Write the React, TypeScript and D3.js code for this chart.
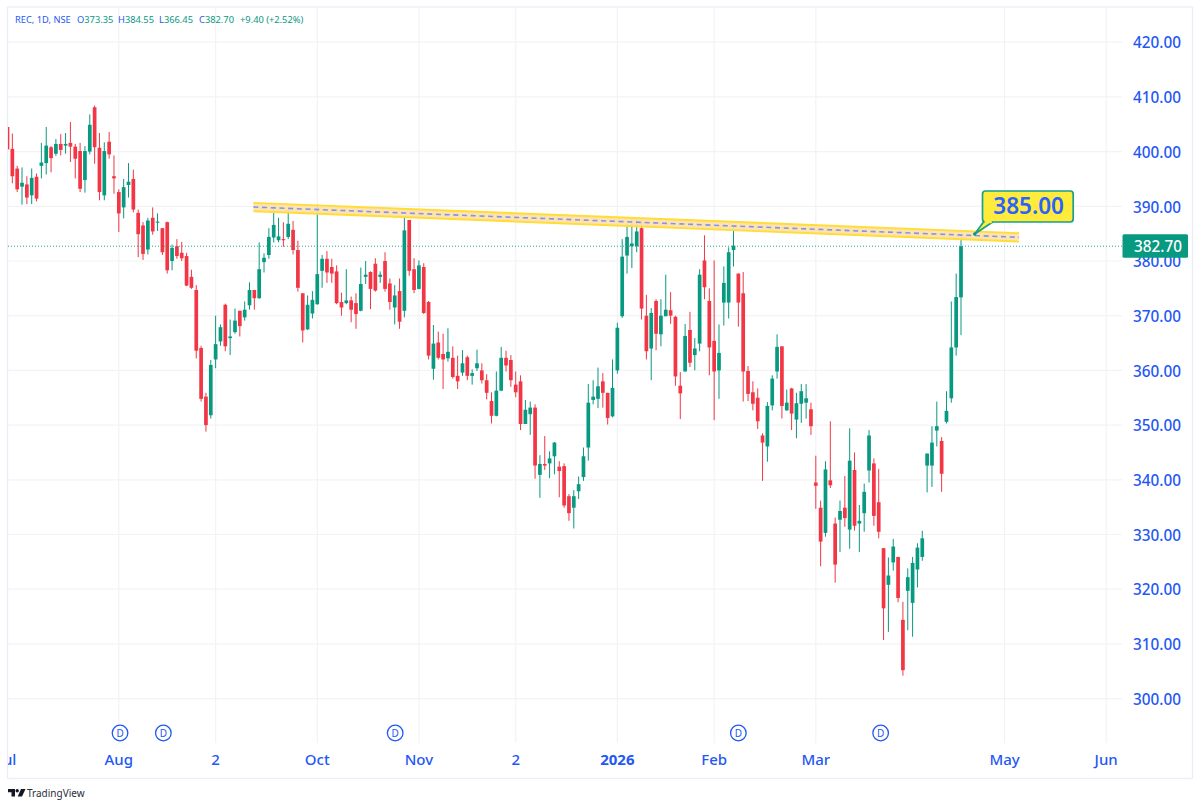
import React from "react";
import * as d3 from "d3";

const opens = [
404.5,400.5,396.9,393.6,394.0,392.0,395.4,397.4,397.9,400.8,
399.6,401.4,401.1,401.6,400.9,400.1,394.8,400.0,408.1,400.7,
392.0,401.8,395.5,392.6,389.8,393.9,395.0,388.8,386.5,382.1,
387.9,387.0,386.0,387.1,380.0,382.7,381.5,380.9,377.1,374.7,
364.1,355.2,351.8,362.0,365.3,372.0,365.9,367.0,370.9,369.7,
371.9,374.7,373.2,379.8,381.1,384.3,383.8,384.0,384.4,385.7,
382.0,374.1,367.5,370.4,372.1,378.2,380.4,378.9,378.1,372.5,
372.3,372.8,372.3,370.9,377.1,378.0,379.5,377.1,380.0,375.9,
371.5,374.5,370.9,387.5,378.5,374.9,378.9,372.5,360.3,365.1,
363.0,362.2,362.3,359.0,359.6,362.4,359.0,360.4,360.0,358.2,
354.4,351.7,356.3,362.3,361.9,357.4,358.0,350.2,352.0,353.2,
340.9,342.9,343.0,344.3,342.4,342.5,337.0,334.9,337.9,340.5,
345.9,354.6,354.8,358.0,355.9,351.6,360.0,369.9,381.0,382.7,
382.7,386.0,370.0,364.0,372.7,366.6,369.9,371.0,369.8,357.2,
359.8,367.4,362.8,364.9,380.1,372.7,365.4,360.0,372.4,372.4,
382.0,377.7,374.1,359.9,356.0,355.0,348.1,346.1,353.6,359.8,
364.4,352.7,356.7,351.0,353.9,354.1,352.9,339.5,334.9,330.3,
339.9,332.0,332.7,334.9,330.9,341.8,332.0,333.9,341.7,343.0,
335.9,327.5,320.8,324.9,325.9,314.4,319.7,317.5,323.6,325.9,
342.6,342.6,349.0,347.1,350.6,354.9,364.2,373.35];

const closes = [
400.4,395.5,393.1,394.3,391.6,395.2,391.4,398.0,401.1,398.8,
401.4,400.3,401.4,400.9,398.7,393.2,400.1,404.9,400.8,392.6,
400.1,399.5,395.1,388.7,393.5,394.5,389.4,384.9,381.3,387.4,
385.4,387.2,381.6,378.3,382.4,380.9,380.5,375.5,375.1,363.6,
354.8,350.0,361.0,364.8,367.9,364.4,366.2,369.1,368.1,371.1,
374.7,373.2,378.5,380.6,384.4,386.6,384.5,383.8,386.8,382.0,
375.1,367.3,372.0,372.9,377.6,380.4,377.9,377.7,372.3,371.5,
372.8,371.1,370.3,375.8,377.5,374.9,374.6,377.5,374.9,372.5,
373.7,368.9,385.6,378.2,374.7,379.2,370.5,362.7,364.9,362.3,
362.0,363.4,358.8,358.0,361.3,359.0,359.5,361.3,358.2,355.9,
351.7,356.3,362.3,360.9,358.2,356.0,350.2,352.8,353.2,342.6,
342.9,342.6,343.9,346.8,341.6,335.3,333.9,337.0,339.2,344.3,
354.1,355.2,357.1,355.9,351.3,356.8,367.8,380.8,384.4,383.2,
385.4,371.3,363.5,370.5,366.7,370.0,371.1,370.0,358.9,355.8,
366.3,361.4,364.0,377.5,375.2,364.2,359.8,363.2,376.0,381.6,
382.8,372.4,359.8,355.7,353.9,350.7,346.8,353.5,358.5,364.3,
353.5,354.1,352.1,354.0,356.2,354.9,349.8,338.9,328.7,341.9,
339.0,324.5,334.3,333.0,343.5,331.6,332.5,337.8,348.1,333.4,
330.5,316.5,322.5,327.8,318.4,305.2,322.2,324.8,327.6,329.3,
344.8,346.8,349.8,341.1,352.6,364.2,373.4,382.7];

const highs = [
404.5,403.3,397.4,397.1,395.5,396.9,396.0,401.6,404.5,401.0,
402.3,403.2,403.4,405.4,401.4,401.6,401.0,406.8,408.4,403.4,
401.7,403.6,399.3,393.1,395.0,397.9,396.7,389.4,387.1,387.9,
389.8,388.7,386.0,387.2,383.0,384.0,383.5,381.5,378.4,375.6,
364.5,355.9,361.9,370.0,368.4,372.2,369.3,371.3,370.9,372.6,
376.1,374.7,383.4,381.4,386.0,390.4,387.9,387.1,389.5,387.3,
383.7,374.1,373.7,374.5,390.3,381.1,381.8,380.4,379.2,374.2,
378.5,373.5,374.1,378.8,380.0,378.1,380.5,378.1,381.6,376.8,
375.6,376.8,388.2,387.5,380.5,380.1,379.6,372.7,368.3,367.1,
366.7,367.7,364.4,362.7,363.7,362.7,360.2,363.8,361.3,359.3,
356.0,359.8,364.3,363.6,362.8,359.8,359.1,354.6,354.3,353.8,
344.5,348.0,345.2,346.9,343.4,343.0,337.4,338.1,340.6,345.9,
357.5,358.2,360.5,359.5,355.9,362.0,368.7,384.0,386.8,387.9,
387.6,387.6,373.8,371.4,373.0,373.0,377.5,374.3,370.0,359.7,
368.5,370.7,365.9,378.5,384.7,375.0,380.1,368.4,379.0,382.5,
386.5,377.7,378.0,360.8,358.0,356.7,348.5,354.2,359.1,366.6,
364.4,356.5,356.8,355.9,357.5,357.5,354.1,344.4,336.2,343.4,
350.7,333.1,336.2,340.7,349.4,345.0,335.4,339.3,349.1,343.9,
342.0,327.5,325.8,329.2,325.9,317.7,323.8,325.9,328.4,330.7,
344.8,349.8,354.3,347.8,356.2,372.6,377.7,384.55];

const lows = [
400.0,394.2,392.6,390.3,390.4,390.4,390.9,395.1,395.8,396.2,
399.2,399.3,399.6,398.1,395.1,392.6,392.5,399.5,397.8,391.1,
391.1,398.7,392.3,385.3,387.8,391.6,388.9,380.7,380.2,381.2,
384.8,385.5,381.1,377.7,378.3,380.4,380.0,375.4,374.9,362.2,
354.3,348.8,351.2,360.4,364.5,363.5,362.8,366.7,366.2,369.1,
371.1,371.1,373.1,377.9,380.4,383.4,383.4,382.6,384.0,381.2,
374.4,365.1,367.4,369.5,372.0,375.1,376.0,376.0,372.1,370.0,
372.1,368.8,367.6,370.8,375.8,371.2,374.4,376.0,374.4,371.1,
368.4,367.6,369.7,377.3,374.1,374.8,370.3,362.0,358.3,362.0,
356.6,361.6,358.5,356.6,359.0,358.2,357.4,359.9,357.6,354.7,
350.3,351.6,356.2,359.8,357.0,355.1,349.1,350.2,348.2,340.2,
336.7,341.8,340.3,341.0,336.8,334.9,332.5,331.1,336.5,339.8,
343.5,353.8,353.1,353.2,350.1,351.4,359.4,369.6,377.7,378.7,
381.6,369.3,362.0,358.2,363.7,364.4,369.9,368.5,357.2,351.1,
359.8,360.6,360.0,363.5,373.0,359.1,350.9,354.8,368.2,369.5,
379.0,368.0,354.3,354.4,352.7,349.3,339.8,343.3,352.7,358.5,
351.2,352.6,349.1,347.6,350.4,351.2,348.2,334.7,324.2,329.6,
338.5,321.2,326.8,331.4,327.4,330.7,326.8,330.5,339.5,331.6,
329.3,310.7,312.2,323.4,317.6,304.2,312.5,311.3,320.3,325.2,
337.7,338.7,346.1,337.8,350.3,354.1,362.7,366.45];

const priceTicks = [300, 310, 320, 330, 340, 350, 360, 370, 380, 390, 400, 410, 420];
const timeIndex = [0, 23, 43, 64, 85, 105, 126, 146, 167, 206, 227];
const timeLabels = ["Jul", "Aug", "2", "Oct", "Nov", "2", "2026", "Feb", "Mar", "May", "Jun"];
const dividendIndex = [23.25, 32.2, 80.1, 151, 180.4];
const trendIndex = [50.8, 209];
const trendCenter = [389.87, 384.33];
const trendHalfBand = 0.76;
const lastClose = 382.7;
const targetLabel = "385.00";
const legendTitle = "REC, 1D, NSE";
const legendItems = [
  { k: "O", v: "373.35", x: 77 },
  { k: "H", v: "384.55", x: 118 },
  { k: "L", v: "366.45", x: 159 },
  { k: "C", v: "382.70", x: 199 },
];
const legendChange = "+9.40 (+2.52%)";

const UP = "#089981";
const DOWN = "#F23645";
const BLUE = "#1F58F5";
const GRID = "#f3f3f6";
const FRAME = "#eceef5";
const FONT = "'Noto Sans', sans-serif";

const PL = 8;
const PR = 1122;
const PT = 8;
const PB = 778;

export default function App() {
  const x = d3.scaleLinear().domain([0, 197]).range([7.5, 961]);
  const y = d3.scaleLinear().domain([300, 420]).range([698.6, 42.2]);
  const bw = 3.7;

  const trendLine = d3
    .line<number>()
    .x((i) => x(trendIndex[i]))
    .y((i) => y(trendCenter[i]));
  const offsetLine = (d: number) =>
    d3
      .line<number>()
      .x((i) => x(trendIndex[i]))
      .y((i) => y(trendCenter[i] + d))([0, 1]) as string;
  const bandArea = d3
    .area<number>()
    .x((i) => x(trendIndex[i]))
    .y0((i) => y(trendCenter[i] - trendHalfBand))
    .y1((i) => y(trendCenter[i] + trendHalfBand))([0, 1]) as string;

  const lastY = y(lastClose);

  return (
    <svg
      width={1200}
      height={807}
      viewBox="0 0 1200 807"
      style={{ position: "absolute", left: 0, top: 0, background: "#fff" }}
      fontFamily={FONT}
    >
      <defs>
        <clipPath id="plot">
          <rect x={PL} y={PT} width={PR - PL} height={PB - PT} />
        </clipPath>
        <clipPath id="tlabels">
          <rect x={PL} y={PT} width={1192 - PL} height={PB - PT} />
        </clipPath>
      </defs>

      {/* frame */}
      <rect x={7.5} y={7} width={1185} height={771.5} fill="none" stroke={FRAME} strokeWidth={1.4} />

      {/* grid */}
      {priceTicks.map((p) => (
        <line key={p} x1={PL} x2={PR} y1={y(p)} y2={y(p)} stroke={GRID} strokeWidth={1.2} />
      ))}
      {timeIndex.slice(1).map((t, i) => (
        <line key={i} x1={x(t)} x2={x(t)} y1={PT} y2={743} stroke={GRID} strokeWidth={1.2} />
      ))}

      {/* candles */}
      <g clipPath="url(#plot)">
        {opens.map((o, i) => {
          const c = closes[i];
          const col = c >= o ? UP : DOWN;
          const top = y(Math.max(o, c));
          const bot = y(Math.min(o, c));
          return (
            <g key={i}>
              <line x1={x(i)} x2={x(i)} y1={y(highs[i])} y2={y(lows[i])} stroke={col} strokeWidth={1} />
              <rect x={x(i) - bw / 2} y={top} width={bw} height={Math.max(bot - top, 1)} fill={col} />
            </g>
          );
        })}
      </g>

      {/* last price line */}
      <line x1={PL} x2={PR} y1={lastY} y2={lastY} stroke={UP} strokeWidth={1} strokeDasharray="1 2" opacity={0.85} />

      {/* trend channel */}
      <path d={bandArea} fill="#FFDFA8" opacity={0.9} />
      <path d={offsetLine(trendHalfBand)} fill="none" stroke="#FFDD33" strokeWidth={1.9} />
      <path d={offsetLine(-trendHalfBand)} fill="none" stroke="#FFDD33" strokeWidth={1.9} />
      <path d={trendLine([0, 1]) as string} fill="none" stroke="#7F96E6" strokeWidth={1.6} strokeDasharray="5 3.7" />

      {/* callout */}
      <path d="M974.7 234 L983.5 222 L992.7 222 Z" fill="#FFEB3B" stroke="#17A08A" strokeWidth={1.7} strokeLinejoin="round" />
      <rect x={982.5} y={191} width={90.7} height={31} rx={3} fill="#FFEB3B" stroke="#17A08A" strokeWidth={1.7} />
      <rect x={984.6} y={220} width={7.2} height={3.2} fill="#FFEB3B" />
      <circle cx={974.7} cy={234} r={1.7} fill="#089981" />
      <text x={1028.6} y={213.6} textAnchor="middle" fontSize={22.5} fontWeight={600} fill="#2962FF">
        {targetLabel}
      </text>

      {/* dividends */}
      {dividendIndex.map((d, i) => (
        <g key={i}>
          <circle cx={x(d)} cy={733} r={7.8} fill="#fff" stroke={BLUE} strokeWidth={1.3} />
          <text x={x(d)} y={736.7} textAnchor="middle" fontSize={10} fill={BLUE}>
            D
          </text>
        </g>
      ))}

      {/* price axis */}
      {priceTicks.map((p) => (
        <text key={p} x={1181} y={y(p) + 6.2} textAnchor="end" fontSize={15.3} fontWeight={500} fill={BLUE}>
          {d3.format(".2f")(p)}
        </text>
      ))}
      <rect x={1122.5} y={234.3} width={65.5} height={23.5} rx={1.5} fill={UP} />
      <text x={1182} y={lastY + 5.6} textAnchor="end" fontSize={15.3} fontWeight={500} fill="#fff">
        {d3.format(".2f")(lastClose)}
      </text>

      {/* time axis */}
      <g clipPath="url(#tlabels)">
        {timeIndex.map((t, i) => (
          <text
            key={i}
            x={x(t)}
            y={765}
            textAnchor="middle"
            fontSize={15}
            fontWeight={timeLabels[i] === "2026" ? 700 : 500}
            fill={BLUE}
          >
            {timeLabels[i]}
          </text>
        ))}
      </g>

      {/* legend */}
      <g fontSize={9.3}>
        <text x={15} y={22.5} fill={BLUE}>
          {legendTitle}
        </text>
        {legendItems.map((it) => (
          <text key={it.k} x={it.x} y={22.5} fill={UP}>
            <tspan fill={BLUE}>{it.k}</tspan>
            {it.v}
          </text>
        ))}
        <text x={240} y={22.5} fill={UP}>
          {legendChange}
        </text>
      </g>

      {/* logo */}
      <g fill="#131722">
        <path d="M8 789 H15 V796.5 H11.5 V792.3 H8 Z" />
        <circle cx={17.2} cy={790.8} r={1.7} />
        <path d="M21 789 H25.5 L22 796.5 H17.7 Z" />
      </g>
      <text x={27} y={797} fontSize={10} fill="#2a2e39">
        TradingView
      </text>
    </svg>
  );
}
